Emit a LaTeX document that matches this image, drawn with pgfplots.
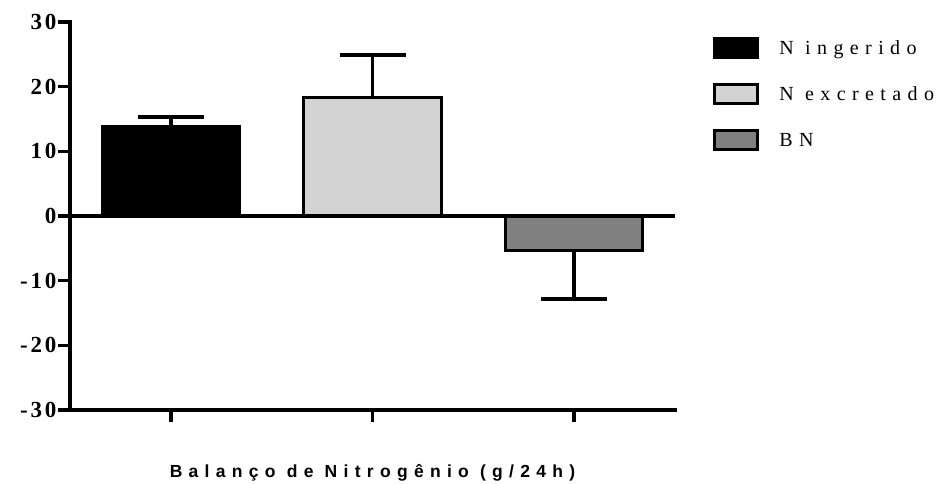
\documentclass[border=0pt]{standalone}
\usepackage{pgfplots}
\pgfplotsset{compat=1.18}
\usepackage{fontspec}
\setmainfont{Liberation Serif}
\newfontfamily\tickfont[LetterSpace=12]{Liberation Serif}
\newfontfamily\legfont[LetterSpace=32]{Liberation Serif}
\newfontfamily\labfont[LetterSpace=36]{Liberation Sans}
\definecolor{lgray}{RGB}{211,211,211}
\definecolor{dgray}{RGB}{128,128,128}
\begin{document}
\begin{tikzpicture}[x=1pt,y=1pt]
\path[use as bounding box] (0,0) rectangle (945,483);
\begin{axis}[
  at={(70pt,73pt)}, anchor=south west,
  scale only axis, width=605pt, height=388pt,
  xmin=-0.5, xmax=2.5, ymin=-30, ymax=30,
  axis lines*=left,
  axis line style={line width=3.5pt, line cap=rect},
  xtick={0,1,2}, xticklabels={},
  ytick={-30,-20,-10,0,10,20,30},
  yticklabels={-30,-20,-10,0,10,20,30},
  tick align=outside,
  major tick length=12pt,
  tick style={line width=3.5pt, black},
  yticklabel style={font=\tickfont\bfseries\fontsize{23}{24}\selectfont, inner sep=1.5pt},
  xlabel={Balanço de Nitrogênio (g/24h)},
  xlabel style={at={(axis description cs:0.5,-0.175)}, anchor=base, font=\labfont\bfseries\fontsize{17.5}{20}\selectfont},
  legend style={at={(rel axis cs:1.063,0.961)}, anchor=north west, draw=none, fill=none, inner sep=0pt,
    row sep=24pt, column sep=20pt, font=\legfont\fontsize{20}{22}\selectfont, nodes={inner sep=0pt}},
  legend cell align=left,
  legend image code/.code={\draw[#1, line width=3pt] (1.5pt,-9.5pt) rectangle (44.5pt,9.5pt);},
  clip=false,
]
\addplot[ybar, bar width=0.68, bar shift=0pt, fill=black, draw=black, line width=3pt,
  error bars/.cd, y dir=plus, y explicit, error mark=|,
  error bar style={line width=3.5pt, black},
  error mark options={line width=3.5pt, mark size=33pt, black}]
  coordinates {(0,13.8) +- (0,1.5)};
\addlegendentry{N ingerido}
\addplot[ybar, bar width=0.68, bar shift=0pt, fill=lgray, draw=black, line width=3pt,
  error bars/.cd, y dir=plus, y explicit, error mark=|,
  error bar style={line width=3.5pt, black},
  error mark options={line width=3.5pt, mark size=33pt, black}]
  coordinates {(1,18.3) +- (0,6.6)};
\addlegendentry{N excretado}
\addplot[ybar, bar width=0.68, bar shift=0pt, fill=dgray, draw=black, line width=3pt,
  error bars/.cd, y dir=minus, y explicit, error mark=|,
  error bar style={line width=3.5pt, black},
  error mark options={line width=3.5pt, mark size=33pt, black}]
  coordinates {(2,-5.4) +- (0,7.4)};
\addlegendentry{BN}
\addplot[forget plot, black, line width=3.5pt] coordinates {(-0.5,0) (2.5,0)};
\end{axis}
\end{tikzpicture}
\end{document}
